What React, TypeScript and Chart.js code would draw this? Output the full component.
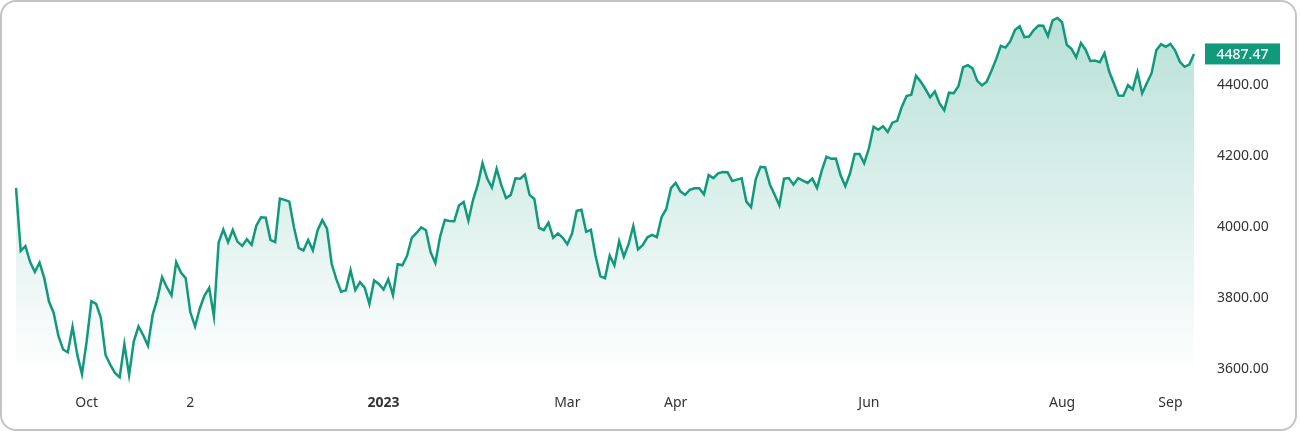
import React, { useEffect, useRef } from "react";
import { Chart, registerables } from "chart.js";

Chart.register(...registerables);

// trading sessions, one row of day numbers per month
const months = [
	"2022-09", "2022-10", "2022-11", "2022-12", "2023-01", "2023-02", "2023-03",
	"2023-04", "2023-05", "2023-06", "2023-07", "2023-08", "2023-09",
];
const sessionDays = [
	[12, 13, 14, 15, 16, 19, 20, 21, 22, 23, 26, 27, 28, 29, 30],
	[3, 4, 5, 6, 7, 10, 11, 12, 13, 14, 17, 18, 19, 20, 21, 24, 25, 26, 27, 28, 31],
	[1, 2, 3, 4, 7, 8, 9, 10, 11, 14, 15, 16, 17, 18, 21, 22, 23, 25, 28, 29, 30],
	[1, 2, 5, 6, 7, 8, 9, 12, 13, 14, 15, 16, 19, 20, 21, 22, 23, 27, 28, 29, 30],
	[3, 4, 5, 6, 9, 10, 11, 12, 13, 17, 18, 19, 20, 23, 24, 25, 26, 27, 30, 31],
	[1, 2, 3, 6, 7, 8, 9, 10, 13, 14, 15, 16, 17, 21, 22, 23, 24, 27, 28],
	[1, 2, 3, 6, 7, 8, 9, 10, 13, 14, 15, 16, 17, 20, 21, 22, 23, 24, 27, 28, 29, 30, 31],
	[3, 4, 5, 6, 10, 11, 12, 13, 14, 17, 18, 19, 20, 21, 24, 25, 26, 27, 28],
	[1, 2, 3, 4, 5, 8, 9, 10, 11, 12, 15, 16, 17, 18, 19, 22, 23, 24, 25, 26, 30, 31],
	[1, 2, 5, 6, 7, 8, 9, 12, 13, 14, 15, 16, 20, 21, 22, 23, 26, 27, 28, 29, 30],
	[3, 5, 6, 7, 10, 11, 12, 13, 14, 17, 18, 19, 20, 21, 24, 25, 26, 27, 28, 31],
	[1, 2, 3, 4, 7, 8, 9, 10, 11, 14, 15, 16, 17, 18, 21, 22, 23, 24, 25, 28, 29, 30, 31],
	[1, 5, 6, 7, 8, 11],
];

// daily closes
const closes = [
	// Sep 2022
	4110.41, 3932.69, 3946.01, 3901.35, 3873.33, 3899.89, 3855.93, 3789.93, 3757.99, 3693.23,
	3655.04, 3647.29, 3719.04, 3640.47, 3585.62,
	// Oct
	3678.43, 3790.93, 3783.28, 3744.52, 3639.66, 3612.39, 3588.84, 3577.03, 3669.91, 3583.07,
	3677.95, 3719.98, 3695.16, 3665.78, 3752.75, 3797.34, 3859.11, 3830.6, 3807.3, 3901.06,
	3871.98,
	// Nov
	3856.1, 3759.69, 3719.89, 3770.55, 3806.8, 3828.11, 3748.57, 3956.37, 3992.93, 3957.25,
	3991.73, 3958.79, 3946.56, 3965.34, 3949.94, 4003.58, 4027.26, 4026.12, 3963.94, 3957.63,
	4080.11,
	// Dec
	4076.57, 4071.7, 3998.84, 3941.26, 3933.92, 3963.51, 3934.38, 3990.56, 4019.65, 3995.32,
	3895.75, 3852.36, 3817.66, 3821.62, 3878.44, 3822.39, 3844.82, 3829.25, 3783.22, 3849.28,
	3839.5,
	// Jan 2023
	3824.14, 3852.97, 3808.1, 3895.08, 3892.09, 3919.25, 3969.61, 3983.17, 3999.09, 3990.97,
	3928.86, 3898.85, 3972.61, 4019.81, 4016.95, 4016.22, 4060.43, 4070.56, 4017.77, 4076.6,
	// Feb
	4119.21, 4179.76, 4136.48, 4111.08, 4164.0, 4117.86, 4081.5, 4090.46, 4137.29, 4136.13,
	4147.6, 4090.41, 4079.09, 3997.34, 3991.05, 4012.32, 3970.04, 3982.24, 3970.15,
	// Mar
	3951.39, 3981.35, 4045.64, 4048.42, 3986.37, 3992.01, 3918.32, 3861.59, 3855.76, 3919.29,
	3891.93, 3960.28, 3916.64, 3951.57, 4002.87, 3936.97, 3948.72, 3970.99, 3977.53, 3971.27,
	4027.81, 4050.83, 4109.31,
	// Apr
	4124.51, 4100.6, 4090.38, 4105.02, 4109.11, 4108.94, 4091.95, 4146.22, 4137.64, 4151.32,
	4154.87, 4154.52, 4129.79, 4133.52, 4137.04, 4071.63, 4055.99, 4135.35, 4169.48,
	// May
	4167.87, 4119.58, 4090.75, 4061.22, 4136.25, 4138.12, 4119.17, 4137.64, 4130.62, 4124.08,
	4136.28, 4109.9, 4158.77, 4198.05, 4191.98, 4192.63, 4145.58, 4115.24, 4151.28, 4205.45,
	4205.52, 4179.83,
	// Jun
	4221.02, 4282.37, 4273.79, 4283.85, 4267.52, 4293.93, 4298.86, 4338.93, 4369.01, 4372.59,
	4425.84, 4409.59, 4388.71, 4365.69, 4381.89, 4348.33, 4328.82, 4378.41, 4376.86, 4396.44,
	4450.38,
	// Jul
	4455.59, 4446.82, 4411.59, 4398.95, 4409.53, 4439.26, 4472.16, 4510.04, 4505.42, 4522.79,
	4554.98, 4565.72, 4534.87, 4536.34, 4554.64, 4567.46, 4566.75, 4537.41, 4582.23, 4588.96,
	// Aug
	4576.73, 4513.39, 4501.89, 4478.03, 4518.44, 4499.38, 4467.71, 4468.83, 4464.05, 4489.72,
	4437.86, 4404.33, 4370.36, 4369.71, 4399.77, 4387.55, 4436.01, 4376.31, 4405.71, 4433.31,
	4497.63, 4514.87, 4507.66,
	// Sep
	4515.77, 4496.83, 4465.48, 4451.14, 4457.49, 4487.47,
];

// x labels shown under the chart
const tickDates = [
	"2022-10-03", "2022-11-02", "2023-01-03", "2023-03-01",
	"2023-04-03", "2023-06-01", "2023-08-01", "2023-09-01",
];
const tickTexts = ["Oct", "2", "2023", "Mar", "Apr", "Jun", "Aug", "Sep"];
const yTicks = [3600, 3800, 4000, 4200, 4400];

const GREEN = "#11997c";
const FONT = "'Noto Sans', sans-serif";

const dates = months.flatMap((m, i) =>
	sessionDays[i].map(d => `${m}-${String(d).padStart(2, "0")}`)
);

// badge with the last price next to the axis
const lastPriceTag = {
	id: "lastPriceTag",
	afterDraw(chart: any) {
		const { ctx, scales } = chart;
		const last = closes[closes.length - 1];
		const y = scales.y.getPixelForValue(last);
		ctx.save();
		ctx.fillStyle = GREEN;
		ctx.fillRect(1205, y - 10.5, 75, 21);
		ctx.fillStyle = "#fff";
		ctx.font = `500 14px ${FONT}`;
		ctx.textAlign = "center";
		ctx.textBaseline = "middle";
		ctx.fillText(last.toFixed(2), 1242.5, y + 1);
		ctx.restore();
	},
};

const App: React.FC = () => {
	const chartRef = useRef<HTMLCanvasElement>(null);

	useEffect(() => {
		if (!chartRef.current) return;

		const config = {
			type: "line",
			data: {
				labels: dates,
				datasets: [
					{
						data: closes,
						borderColor: GREEN,
						borderWidth: 2.5,
						pointRadius: 0,
						tension: 0,
						fill: "start",
						backgroundColor: (context: any) => {
							const { ctx, chartArea } = context.chart;
							if (!chartArea) return "rgba(17,153,124,0.1)";
							const g = ctx.createLinearGradient(0, chartArea.top, 0, chartArea.bottom - 10);
							g.addColorStop(0, "rgba(17,153,124,0.3)");
							g.addColorStop(1, "rgba(17,153,124,0)");
							return g;
						},
					},
				],
			},
			options: {
				animation: false,
				responsive: false,
				layout: { padding: { left: 16, top: 14, right: 0, bottom: 0 } },
				plugins: {
					legend: { display: false },
					tooltip: { enabled: false },
				},
				scales: {
					x: {
						type: "category",
						offset: false,
						grid: { display: false, drawTicks: false },
						border: { display: false },
						afterFit: (axis: any) => {
							axis.height = 47;
							axis.paddingLeft = 0;
							axis.paddingRight = 0;
						},
						ticks: {
							autoSkip: false,
							maxRotation: 0,
							padding: 10,
							color: "#333",
							font: (c: any) => ({
								family: FONT,
								size: 14,
								weight: c.tick && c.tick.label === "2023" ? "bold" : "normal",
							}),
							callback: (_v: any, i: number) => {
								const k = tickDates.indexOf(dates[i]);
								return k >= 0 ? tickTexts[k] : null;
							},
						},
					},
					y: {
						position: "right",
						min: 3555,
						max: 4600,
						grid: { display: false, drawTicks: false },
						border: { display: false },
						afterFit: (axis: any) => {
							axis.width = 106;
							axis.paddingTop = 0;
							axis.paddingBottom = 0;
						},
						afterBuildTicks: (axis: any) => {
							axis.ticks = yTicks.map(v => ({ value: v }));
						},
						ticks: {
							padding: 23,
							color: "#333",
							font: { family: FONT, size: 14 },
							callback: (v: any) => Number(v).toFixed(2),
						},
					},
				},
			},
			plugins: [lastPriceTag],
		};

		const chart = new Chart(chartRef.current, config as any);
		return () => {
			chart.destroy();
		};
	}, []);

	return (
		<div style={{ position: "fixed", left: 0, top: 0, width: 1300, height: 432, background: "#fff" }}>
			<canvas ref={chartRef} width={1300} height={432} style={{ position: "absolute", left: 0, top: 0 }} />
			<div
				style={{
					position: "absolute",
					left: 0,
					top: 0,
					width: 1297,
					height: 431,
					boxSizing: "border-box",
					border: "2px solid #c4c4c4",
					borderRadius: 16,
					pointerEvents: "none",
				}}
			/>
		</div>
	);
};

export default App;
